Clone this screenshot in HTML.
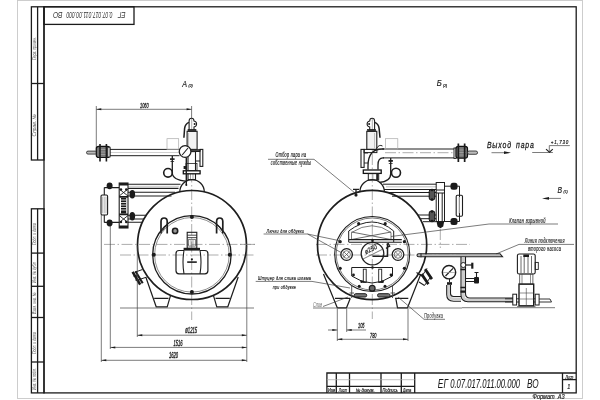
<!DOCTYPE html>
<html><head><meta charset="utf-8">
<style>
html,body{margin:0;padding:0;background:#fff;width:600px;height:400px;overflow:hidden}
svg{display:block;will-change:transform}
text{font-family:"Liberation Sans",sans-serif;font-style:italic;fill:#1a1a1a;stroke:#1a1a1a;stroke-width:0.18}
.f{fill:none;stroke:#1b1b1b;stroke-width:1.3}
.m{fill:none;stroke:#1e1e1e;stroke-width:1}
.t{fill:none;stroke:#444;stroke-width:0.7}
.g{fill:none;stroke:#bbb;stroke-width:0.7}
.c{fill:none;stroke:#8a8a8a;stroke-width:0.7;stroke-dasharray:11 2.5 1.5 2.5}
.d{fill:#1b1b1b;stroke:none}
</style></head>
<body>
<svg width="600" height="400" viewBox="0 0 600 400">
<!-- sheet border -->
<rect x="17.5" y="0.5" width="565" height="398" fill="none" stroke="#c8c8c8" stroke-width="0.9"/>
<!-- frame -->
<g id="frame">
<rect class="f" x="44" y="6.8" width="532.2" height="386.1"/>
<rect class="f" x="31.4" y="6.8" width="12.6" height="153.2"/>
<line class="f" x1="37.6" y1="6.8" x2="37.6" y2="160"/>
<line class="f" x1="31.4" y1="83.5" x2="44" y2="83.5"/>
<rect class="f" x="31.4" y="208.8" width="12.6" height="184.1"/>
<line class="f" x1="37.6" y1="208.8" x2="37.6" y2="392.9"/>
<line class="f" x1="31.4" y1="253.1" x2="44" y2="253.1"/>
<line class="f" x1="31.4" y1="286.3" x2="44" y2="286.3"/>
<line class="f" x1="31.4" y1="317.5" x2="44" y2="317.5"/>
<line class="f" x1="31.4" y1="362" x2="44" y2="362"/>
<rect class="f" x="44" y="6.8" width="90" height="17.6"/>
<!-- title block -->
<polyline class="f" points="326.9,392.9 326.9,373 576.2,373"/>
<line class="f" x1="336.3" y1="373" x2="336.3" y2="392.9"/>
<line class="f" x1="349.5" y1="373" x2="349.5" y2="392.9"/>
<line class="f" x1="381" y1="373" x2="381" y2="392.9"/>
<line class="f" x1="401.3" y1="373" x2="401.3" y2="392.9"/>
<line class="f" x1="414.7" y1="373" x2="414.7" y2="392.9"/>
<line class="f" x1="562.5" y1="373" x2="562.5" y2="392.9"/>
<line class="f" x1="326.9" y1="386.4" x2="414.7" y2="386.4"/>
<line x1="326.9" y1="379.7" x2="414.7" y2="379.7" stroke="#aaa" stroke-width="0.7"/>
<line class="f" x1="562.5" y1="379.6" x2="576.2" y2="379.6"/>
</g>
<g id="frametext">
<text transform="translate(125.6,12) rotate(180) scale(0.66,1)" font-size="9.6" style="fill:#333;stroke-width:0">ЕГ</text>
<text transform="translate(112.6,12) rotate(180) scale(0.53,1)" font-size="9.6" style="fill:#333;stroke-width:0">0.07.017.011.00.000</text>
<text transform="translate(62.6,12) rotate(180) scale(0.7,1)" font-size="9.6" style="fill:#333;stroke-width:0">ВО</text>
<text transform="translate(36,60) rotate(-90) scale(0.7,1)" font-size="5" style="fill:#555;stroke-width:0">Перв. примен.</text>
<text transform="translate(36,136.4) rotate(-90) scale(0.98,1)" font-size="5" style="fill:#555;stroke-width:0">Справ. №</text>
<text transform="translate(36,245) rotate(-90) scale(0.7,1)" font-size="5" style="fill:#555;stroke-width:0">Подп. и дата</text>
<text transform="translate(36,283) rotate(-90) scale(0.7,1)" font-size="5" style="fill:#555;stroke-width:0">Инв. № дубл.</text>
<text transform="translate(36,314) rotate(-90) scale(0.7,1)" font-size="5" style="fill:#555;stroke-width:0">Взам. инв. №</text>
<text transform="translate(36,354) rotate(-90) scale(0.7,1)" font-size="5" style="fill:#555;stroke-width:0">Подп. и дата</text>
<text transform="translate(36,390) rotate(-90) scale(0.7,1)" font-size="5" style="fill:#555;stroke-width:0">Инв. № подл.</text>
<text transform="translate(437.8,387.6) scale(0.68,1)" font-size="12.4" style="stroke-width:0.08">ЕГ</text>
<text transform="translate(450.2,387.6) scale(0.62,1)" font-size="12.4" style="stroke-width:0.08">0.07.017.011.00.000</text>
<text transform="translate(526.9,387.6) scale(0.66,1)" font-size="12.4" style="stroke-width:0.08">ВО</text>
<text transform="translate(565.4,378.5) scale(0.68,1)" font-size="4.5">Лист</text>
<text transform="translate(567.3,389) scale(0.8,1)" font-size="7">1</text>
<text transform="translate(328,391.8) scale(0.8,1)" font-size="4.8">Изм</text>
<text transform="translate(338.8,391.8) scale(0.68,1)" font-size="4.8">Лист</text>
<text transform="translate(355.7,391.8) scale(0.9,1)" font-size="4.8">№ докум.</text>
<text transform="translate(382.5,391.8) scale(0.8,1)" font-size="4.8">Подпись</text>
<text transform="translate(403,391.8) scale(0.66,1)" font-size="4.8">Дата</text>
<text transform="translate(532.5,398.8) scale(0.86,1)" font-size="6.5" style="white-space:pre">Формат  А3</text>
</g>
<g id="leftview">
<!-- center lines -->
<line class="c" x1="191.7" y1="119" x2="191.7" y2="320"/>
<line class="c" x1="104" y1="244.4" x2="256" y2="244.4"/>
<line class="c" x1="120" y1="255" x2="256" y2="255"/>
<!-- view label -->
<text font-size="9" transform="translate(182.3,86.8) scale(0.8,1)">А</text>
<text x="188.5" y="87" font-size="3.5">(2)</text>
<!-- dim 1060 -->
<line class="t" x1="96.3" y1="109.3" x2="191.6" y2="109.3"/>
<path class="d" d="M96.3,109.3 l5,-1 v2z M191.6,109.3 l-5,-1 v2z"/>
<line class="t" x1="96.3" y1="106" x2="96.3" y2="150"/>
<line class="t" x1="191.6" y1="106" x2="191.6" y2="118"/>
<text font-size="6.4" transform="translate(140,107.6) scale(0.6,1)" style="stroke-width:0.3">1060</text>
<!-- upper steam pipe -->
<line class="m" x1="110" y1="149.4" x2="179.5" y2="149.4"/>
<line class="m" x1="110" y1="155.7" x2="179.5" y2="155.7"/>
<line class="t" x1="110" y1="152.5" x2="179.5" y2="152.5" style="stroke:#bbb"/>
<rect class="m" x="86.5" y="151.1" width="10.5" height="3" rx="1.5" style="fill:#bbb;stroke-width:0.8"/>
<path d="M96.3,148.5 q0,-2.2 2.5,-2.2 h8.5 q2.5,0 2.5,2.2 v6.8 q0,2.2 -2.5,2.2 h-8.5 q-2.5,0 -2.5,-2.2z" fill="#777" stroke="#111" stroke-width="1.2"/>
<path d="M99,149.5 h8 M99,152 h8 M99,154.5 h8" stroke="#aaa" stroke-width="0.7"/>
<path class="d" d="M99.2,144 h1.6 v17.6 h-1.6z M105.6,144 h1.6 v17.6 h-1.6z"/>
<rect class="m" x="107.8" y="147.2" width="2.2" height="9.8" style="fill:#fff;stroke-width:0.9"/>
<rect x="167" y="138.7" width="11.7" height="10.7" fill="none" stroke="#aaa" stroke-width="0.7"/>
<!-- safety valve -->
<rect class="m" x="187.1" y="131.3" width="10" height="18.1" style="fill:#f2f2f2;stroke-width:1.1"/>
<line class="t" x1="188.5" y1="133" x2="188.5" y2="148" style="stroke:#aaa"/>
<path class="m" d="M189.1,130.2 V121 q0,-2.8 2.45,-2.8 q2.45,0 2.45,2.8 q2.6,0.5 2.6,3 q0,2.5 -2.6,3 V130.2z" style="stroke-width:1.1"/>
<circle class="d" cx="194.6" cy="124" r="1"/>
<path style="stroke-width:1.5" class="m" d="M189,122.4 q-3.8,1.5 -4.4,6 l-0.7,9.3"/>
<rect class="m" x="188" y="129.3" width="8" height="2" style="fill:#333;stroke-width:0.6"/>
<rect class="m" x="186.2" y="149.4" width="14" height="2.2" style="fill:#444;stroke-width:0.6"/>
<rect class="m" x="200" y="149.4" width="2.8" height="17" style="stroke-width:1.1"/>
<path class="m" d="M195.7,151.5 H200 M195.7,161 H200" style="stroke-width:1"/>
<rect class="m" x="188" y="151.6" width="7.5" height="28" style="fill:#fff;stroke-width:1.1"/>
<line class="t" x1="190.5" y1="174" x2="190.5" y2="179.5" style="stroke:#777"/><line class="t" x1="193" y1="174" x2="193" y2="179.5" style="stroke:#777"/>
<rect x="183.3" y="170.8" width="16.8" height="3" fill="#fff" stroke="#111" stroke-width="1.3"/>
<rect class="m" x="186" y="163.5" width="11" height="7" style="stroke-width:0.8"/>
<path class="m" d="M186.3,157.6 V185" style="stroke-width:1.4"/><circle class="d" cx="186.3" cy="185" r="1"/>
<rect class="d" x="183.6" y="166" width="3" height="3"/>
<circle cx="185.1" cy="151.5" r="5.85" fill="#fff" stroke="#1e1e1e" stroke-width="1.3"/>
<line class="m" x1="182.2" y1="155" x2="188" y2="148" style="stroke-width:1.1"/>
<!-- siphon -->
<circle class="m" cx="168" cy="172.8" r="4.3" style="stroke-width:1.6"/>
<path class="m" d="M172.3,156 V172.8 q0,7.5 14.9,8.5" style="stroke-width:1.3"/>
<rect class="d" x="170" y="158.3" width="4.6" height="1.6"/>
<path class="m" d="M170.5,161.5 h3.6" style="stroke-width:0.8"/>
<!-- dome -->
<path style="stroke-width:1.3" class="m" d="M179.8,192 A12.25,12.3 0 0 1 204.3,192"/>
<!-- main shell -->
<circle style="stroke-width:1.7" class="m" cx="192" cy="245" r="54.5"/>
<!-- door -->
<circle style="stroke-width:1.3" class="m" cx="191.9" cy="254.8" r="39.2"/>
<circle class="t" cx="191.9" cy="254.8" r="37.3" style="stroke-width:0.6"/>
<circle class="d" cx="191.9" cy="217" r="2"/>
<circle class="d" cx="153.8" cy="254.8" r="2"/>
<circle class="d" cx="229.8" cy="254.8" r="2"/>
<circle class="d" cx="191.9" cy="291.9" r="2"/>
<path style="stroke-width:1.7" class="m" d="M161,233.4 V221.6 q0,-3.6 3.1,-3.6 q3.1,0 3.1,3.6 V233.4"/><path class="m" style="stroke-width:0.9" d="M162,231.5 L167,224.5"/>
<path style="stroke-width:1.7" class="m" d="M216.6,233.4 V221.6 q0,-3.6 3.1,-3.6 q3.1,0 3.1,3.6 V233.4"/><path class="m" style="stroke-width:0.9" d="M217.6,224.5 L222.6,231.5"/>
<circle class="m" cx="175.1" cy="230.9" r="2.6" style="fill:#999;stroke-width:1.6"/>
<!-- burner -->
<rect class="m" x="187.2" y="232.3" width="9.6" height="16" style="stroke-width:1.1"/>
<path class="m" d="M187.2,235.2 H196.8 M187.2,237.6 H196.8" style="stroke-width:0.8"/>
<rect class="t" x="188.7" y="239.3" width="6.6" height="6.8"/>
<path class="t" d="M190,241 h4 M190,243 h4 M190,245 h4" style="stroke-width:0.5"/>
<rect class="d" x="183.6" y="247.8" width="16.4" height="2.8"/>
<path class="m" d="M184,250.5 H179 q-3,0 -3,3 V270.8 q0,3 3,3 H204.9 q3,0 3,-3 V253.5 q0,-3 -3,-3 H200" style="stroke-width:1.2"/>
<path class="m" d="M184,250.5 q-2,11.7 0,23.3 M200,250.5 q2,11.7 0,23.3" style="stroke-width:1.1"/>
<line style="stroke-width:1.6" class="m" x1="187.2" y1="262.1" x2="196.8" y2="262.1"/>
<circle class="d" cx="191.9" cy="259.3" r="1.1"/>
<!-- legs -->
<path class="m" d="M145.8,277 L156.2,306.8 H167.2 L170.5,295.7 M154.2,298.3 H168.5" style="stroke-width:1.2"/>
<path class="m" d="M238.2,277 L227.8,306.8 H216.8 L213.5,295.7 M229.8,298.3 H215.5" style="stroke-width:1.2"/>
<!-- side nozzle -->
<path class="m" d="M134.7,272.3 L142.2,269.6 M139.3,279.5 L146,277.3" style="stroke-width:1"/>
<path class="d" d="M131.5,272.5 l2.2,-1.3 l7.6,12.7 l-2.2,1.3z M134.6,271.8 l1.8,-1.1 l7.2,12 l-1.8,1.1z"/>
<path class="m" d="M133.5,276 h4 M135.5,280 h4" style="stroke-width:1.4"/>
<!-- floor -->
<line class="t" x1="120" y1="308" x2="254" y2="308"/>
<!-- dims -->
<line class="t" x1="101.3" y1="215" x2="101.3" y2="362"/>
<line class="t" x1="110.3" y1="226" x2="110.3" y2="349"/>
<line class="t" x1="137.3" y1="246" x2="137.3" y2="337"/>
<line class="t" x1="246.8" y1="246" x2="246.8" y2="362"/>
<line class="t" x1="137.3" y1="335.2" x2="246.8" y2="335.2"/>
<line class="t" x1="110.3" y1="347.4" x2="246.8" y2="347.4"/>
<line class="t" x1="101.3" y1="360.3" x2="246.8" y2="360.3"/>
<path class="d" d="M137.3,335.2 l5,-1 v2z M246.8,335.2 l-5,-1 v2z M110.3,347.4 l5,-1 v2z M246.8,347.4 l-5,-1 v2z M101.3,360.3 l5,-1 v2z M246.8,360.3 l-5,-1 v2z"/>
<text font-size="8.4" transform="translate(185.3,332.9) scale(0.5,1)" style="stroke-width:0.35">ø1215</text>
<text font-size="8.4" transform="translate(173.5,345.6) scale(0.49,1)" style="stroke-width:0.35">1516</text>
<text font-size="8.4" transform="translate(169,357.8) scale(0.49,1)" style="stroke-width:0.35">1620</text>
<!-- water gauge -->
<path class="m" d="M119,184.2 H180.5 M128,188.4 H178.5" style="stroke-width:1.1"/>
<line x1="128" y1="186.3" x2="179" y2="186.3" stroke="#bbb" stroke-width="0.8"/>
<path class="m" d="M128,192.3 H175 M128,196 H171.5" style="stroke-width:1.1"/>
<path class="m" d="M128,215.3 H146 M128,219 H144 M128,222.3 H142.5" style="stroke-width:1.1"/>
<ellipse class="d" cx="132.3" cy="194.2" rx="2.8" ry="4.2"/>
<ellipse class="d" cx="132.3" cy="216.3" rx="2.8" ry="4.2"/>
<rect class="m" x="119.2" y="183" width="8.8" height="45" style="fill:#fff;stroke-width:1.1"/>
<path class="m" d="M119.2,189 L128,196 M128,189 L119.2,196 M119.2,215.5 L128,222.5 M128,215.5 L119.2,222.5" style="stroke-width:0.9"/>
<path class="d" d="M119.2,183 h8.8 v2.5 h-8.8z M119.2,196 h8.8 v1.8 h-8.8z M119.2,213.5 h8.8 v1.8 h-8.8z M119.2,225.5 h8.8 v2.5 h-8.8z"/>
<circle class="d" cx="121" cy="189.5" r="1.2"/><circle class="d" cx="126.2" cy="189.5" r="1.2"/><circle class="d" cx="121" cy="222" r="1.2"/><circle class="d" cx="126.2" cy="222" r="1.2"/>
<rect class="d" x="121" y="198" width="5.2" height="15.5"/>
<path d="M121,200 h5.2 M121,202.5 h5.2 M121,205 h5.2 M121,207.5 h5.2 M121,210 h5.2" stroke="#fff" stroke-width="0.8"/>
<rect style="fill:#eee;stroke-width:1.1" class="m" x="101" y="195" width="6.6" height="20" rx="1.2"/>
<path class="t" d="M102.5,197 v16 M104.3,197 v16 M106,197 v16" style="stroke:#999;stroke-width:0.5"/>
<path class="m" d="M104.3,187.6 V195 M104.3,215 V222.4 M104.3,187.6 H119.2 M104.3,222.4 H119.2" style="stroke-width:1.1"/>
<ellipse class="d" cx="109.6" cy="185.8" rx="3" ry="3.4"/>
<ellipse class="d" cx="109.6" cy="223" rx="3" ry="3.4"/>
</g>
<g id="rightview">
<line class="c" x1="372.3" y1="119" x2="372.3" y2="319"/>
<line class="c" x1="316" y1="244.4" x2="470" y2="244.4"/>
<line class="c" x1="316" y1="255" x2="470" y2="255"/>
<line class="c" x1="240" y1="244.4" x2="256" y2="244.4"/>
<text font-size="9" transform="translate(436.8,85.8) scale(0.85,1)">Б</text>
<text x="443" y="87" font-size="3.5">(2)</text>
<!-- steam pipe right -->
<line class="m" x1="382.2" y1="149" x2="455" y2="149"/>
<line class="m" x1="383" y1="157.9" x2="455" y2="157.9"/>
<line class="c" x1="385" y1="152.7" x2="478" y2="152.7"/>
<rect class="m" x="454" y="148" width="2.2" height="10.5" style="fill:#fff;stroke-width:0.9"/>
<path d="M456,148.5 q0,-2.2 2.5,-2.2 h6.5 q2.5,0 2.5,2.2 v7.5 q0,2.2 -2.5,2.2 h-6.5 q-2.5,0 -2.5,-2.2z" fill="#777" stroke="#111" stroke-width="1.2"/>
<path d="M458,150 h8 M458,152.5 h8 M458,155 h8" stroke="#aaa" stroke-width="0.7"/>
<path class="d" d="M457.5,143.5 h1.7 v18.5 h-1.7z M463.8,143.5 h1.7 v18.5 h-1.7z"/>
<rect class="m" x="467.5" y="151" width="10" height="3.3" rx="1.6" style="fill:#bbb;stroke-width:0.8"/>
<rect x="385.4" y="138.7" width="12.4" height="10.3" fill="none" stroke="#aaa" stroke-width="0.7"/>
<!-- safety valve right -->
<rect class="m" x="366.8" y="131.3" width="10" height="18.1" style="fill:#f2f2f2;stroke-width:1.1"/>
<line class="t" x1="374.5" y1="133" x2="374.5" y2="148" style="stroke:#aaa"/>
<path class="m" d="M374.6,130.2 V121 q0,-2.8 -2.45,-2.8 q-2.45,0 -2.45,2.8 q-2.6,0.5 -2.6,3 q0,2.5 2.6,3 V130.2z" style="stroke-width:1.1"/>
<circle class="d" cx="369.1" cy="124" r="1"/>
<path style="stroke-width:1.5" class="m" d="M374.7,122.4 q3.8,1.5 4.4,6 l0.9,9.3"/>
<rect class="m" x="367.6" y="129.3" width="8" height="2" style="fill:#333;stroke-width:0.6"/>
<rect class="m" x="364.1" y="149.4" width="12.8" height="3.2" style="stroke-width:1"/>
<rect class="m" x="361" y="149.4" width="3.1" height="18" style="stroke-width:1.1"/>
<path class="m" d="M364.1,153 H368 M364.1,163 H368" style="stroke-width:0.9"/>
<path class="m" d="M368,169.5 V166 C368,156 372,149 382.2,149 H384 M378,169.5 V165 q0,-7.1 5,-7.1 H384" style="stroke-width:1.3"/>
<path class="m" d="M376.5,148.5 q2.5,-4.5 6,-2.5" style="stroke-width:1"/>
<rect x="363.3" y="170" width="17.9" height="3.4" fill="#fff" stroke="#111" stroke-width="1.3"/>
<rect class="m" x="368.3" y="173.6" width="10.4" height="6.5" style="stroke-width:1"/><path d="M377.2,174 V180" stroke="#222" stroke-width="2"/>
<line class="t" x1="373" y1="174" x2="373" y2="181" style="stroke:#999"/>
<!-- siphon right -->
<circle class="m" cx="396" cy="172.8" r="4.5" style="stroke-width:1.6"/>
<path class="m" d="M390.7,158 V173.8 q0,8 -11.7,8.5" style="stroke-width:1.3"/>
<rect class="d" x="388.5" y="160" width="4.4" height="1.8"/>
<path class="m" d="M388.8,163.5 h3.8" style="stroke-width:0.8"/>
<!-- nozzle top-left -->
<path style="stroke-width:1.3" class="m" d="M353,189.3 h6 M356,189.3 v7"/>
<circle class="d" cx="356" cy="195" r="1.6"/>
<!-- dome -->
<path style="stroke-width:1.3" class="m" d="M359.9,192 A12.25,12.3 0 0 1 384.4,192"/>
<!-- shell -->
<circle style="stroke-width:1.7" class="m" cx="372.1" cy="245" r="54.6"/>
<circle style="stroke-width:1.1" class="m" cx="372.2" cy="254" r="37.5"/>
<circle class="t" cx="372.2" cy="254" r="36"/>
<!-- explosion valve -->
<path class="m" d="M348.7,242 V231 Q372.5,213 393.7,231 V242"/>
<path class="t" d="M351.5,239.6 V232.5 Q372.5,219 391,232.5 V239.6"/>
<path class="t" d="M351.5,232 L391,239.5 M351.5,239.5 L391,232" style="stroke-width:0.8"/>
<path class="m" d="M348.7,239.6 H401.8 M348.7,242.2 H401.8" style="stroke-width:1.1"/>
<circle class="d" cx="358.7" cy="223.7" r="1.6"/>
<circle class="d" cx="385.2" cy="223.7" r="1.6"/>
<circle class="d" cx="340.2" cy="241.7" r="1.6"/>
<circle class="d" cx="404.4" cy="241.7" r="1.6"/>
<circle class="d" cx="340.2" cy="268.3" r="1.6"/>
<circle class="d" cx="404.4" cy="268.3" r="1.6"/>
<circle class="d" cx="359.2" cy="286.3" r="1.5"/>
<circle class="d" cx="385" cy="286.3" r="1.5"/>
<circle class="d" cx="372.5" cy="240.8" r="1.3"/>
<circle class="d" cx="372.5" cy="267.5" r="1.3"/>
<!-- center sight -->
<circle style="stroke-width:1.3" class="m" cx="372.5" cy="253.6" r="11.3"/>
<line class="t" x1="362" y1="259.5" x2="383" y2="249"/>
<text font-size="6.8" transform="translate(366,254.5) rotate(-28) scale(0.85,1)">ø250</text>
<path style="stroke-width:1.5" class="m" d="M372.5,256.3 h15 v-13"/>
<path class="m" d="M386,248.5 l4,-3 M388,243 l2,4" style="stroke-width:1.3"/>
<circle class="m" cx="346.6" cy="254.5" r="5.8" style="stroke-width:1.3"/><circle class="t" cx="346.6" cy="254.5" r="3.8"/>
<path class="t" d="M344,252 l5,5 M349,252 l-5,5"/>
<circle class="m" cx="398" cy="254.5" r="5.8" style="stroke-width:1.3"/><circle class="t" cx="398" cy="254.5" r="3.8"/>
<path class="t" d="M395.5,252 l5,5 M400.5,252 l-5,5"/>

<!-- ash door -->
<path class="m" d="M351.7,267.5 H392.5 V276 Q372,290 351.7,276z"/>
<rect class="m" x="363.3" y="269.2" width="2.9" height="13.3" style="stroke-width:0.9"/>
<rect class="m" x="378.7" y="269.2" width="3" height="13.3" style="stroke-width:0.9"/>
<circle class="d" cx="353.5" cy="275" r="1.4"/><circle class="d" cx="391" cy="275" r="1.4"/>
<circle class="d" cx="361.7" cy="281.7" r="1.4"/><circle class="d" cx="382.5" cy="281.7" r="1.4"/>
<circle class="m" cx="372.2" cy="288.3" r="2.9" style="fill:#666;stroke-width:1.2"/>
<rect class="m" x="354.2" y="293.7" width="12.5" height="3.3" rx="1.6" style="fill:#777;stroke-width:1"/>
<rect class="m" x="377.5" y="293.7" width="12.5" height="3.3" rx="1.6" style="fill:#777;stroke-width:1"/>
<path class="t" d="M351.7,285 V298 M392.5,285 V298 M349.5,293 h4.5 M390.5,293 h4.5" style="stroke-width:0.9"/>
<!-- legs -->
<path class="m" d="M323.5,274 L337.3,307.8 H346.5 L350.3,298.3 M335,298.3 H350.3" style="stroke-width:1.2"/>
<path class="m" d="M420.8,274 L407.5,307.8 H397.5 L395.8,298.3 M408.3,298.3 H395" style="stroke-width:1.2"/>
<!-- right nozzle angled -->
<path class="m" d="M416.5,272.5 L422,276 M419,282 L424.5,285.5" style="stroke-width:1.1"/>
<path class="d" d="M424,270 l2.2,-1.8 l6.8,10 l-2.2,1.8z M420.5,275 l2.2,-1.8 l6.8,10 l-2.2,1.8z"/>
<path class="m" d="M422,276 L427,268.5 M424.5,285.5 L431,276.5"/>
<!-- floor -->
<line class="t" x1="313" y1="308" x2="462" y2="308"/>
<line class="t" x1="462" y1="307.7" x2="555" y2="307.7"/>
<!-- dims -->
<line class="t" x1="337.3" y1="309" x2="337.3" y2="341"/>
<line class="t" x1="346.7" y1="309" x2="346.7" y2="332"/>
<line class="t" x1="408" y1="309" x2="408" y2="341"/>
<line class="t" x1="328" y1="330" x2="337.3" y2="330"/>
<line class="t" x1="346.7" y1="330" x2="366" y2="330"/>
<path class="d" d="M337.3,330 l-5,-1 v2z M346.7,330 l5,-1 v2z"/>
<line class="t" x1="337.3" y1="339.3" x2="408" y2="339.3"/>
<path class="d" d="M337.3,339.3 l5,-1 v2z M408,339.3 l-5,-1 v2z"/>
<text font-size="7" transform="translate(358,328.4) scale(0.55,1)" style="stroke-width:0.3">105</text>
<text font-size="7" transform="translate(370,337.6) scale(0.55,1)" style="stroke-width:0.3">780</text>
<!-- water gauge right -->
<path class="m" d="M383,184.2 H436.2 M384,189.5 H436.2"/>
<line x1="386" y1="186.8" x2="436" y2="186.8" stroke="#aaa" stroke-width="0.8"/>
<path class="m" d="M388.5,192.5 H436.2 M392,196.2 H436.2"/>
<path class="m" d="M418,215 H436.2 M421,218.7 H436.2 M423,221.7 H436.2"/>
<rect x="429.2" y="189.5" width="5.6" height="10.5" rx="2" fill="#555" stroke="#111" stroke-width="1"/><circle class="d" cx="432" cy="190" r="1.3"/><circle class="d" cx="432" cy="199.5" r="1.3"/>
<rect x="429.2" y="211" width="5.6" height="10.5" rx="2" fill="#555" stroke="#111" stroke-width="1"/><circle class="d" cx="432" cy="211.5" r="1.3"/><circle class="d" cx="432" cy="221" r="1.3"/>
<rect class="m" x="436.2" y="182.5" width="8.3" height="39"/>
<path class="m" d="M436.2,190 h8.3 M436.2,193 h8.3 M438.5,193 v28.5 M442.2,193 v28.5"/>
<path class="d" d="M436.5,221.5 h7.7 l-1,5 l-2.8,1.7 l-2.8,-1.7z"/>
<path class="m" d="M444.5,186.2 H459.5 V197 M444.5,221.5 H459.5 V213"/>
<rect style="stroke-width:1.1" class="m" x="456.2" y="195.2" width="6.3" height="21" rx="1.2"/>
<line class="t" x1="459.3" y1="197" x2="459.3" y2="214"/>
<rect class="d" x="450.5" y="182.8" width="7" height="7" rx="2.5"/>
<rect class="d" x="450.5" y="218" width="7" height="7" rx="2.5"/>
<line class="c" x1="440.3" y1="229" x2="440.3" y2="248"/>
<!-- labels -->
<text font-size="6.3" transform="translate(275.60,157) scale(0.595,1)" style="letter-spacing:0.5px">Отбор пара на</text>
<line class="t" x1="268" y1="159.3" x2="314" y2="159.3"/>
<line class="t" x1="314" y1="159.3" x2="355" y2="193"/>
<text font-size="6.3" transform="translate(270.76,165) scale(0.584,1)" style="letter-spacing:0.5px">собственные нужды</text>
<text font-size="6" transform="translate(266.61,233.2) scale(0.615,1)" style="letter-spacing:0.5px">Лючки для обдувки</text>
<line class="t" x1="263.6" y1="234" x2="307.5" y2="234"/>
<line class="t" x1="307.5" y1="234" x2="341" y2="241"/>
<line class="t" x1="307.5" y1="234" x2="342" y2="253"/>
<text font-size="6" transform="translate(257.93,280.2) scale(0.632,1)" style="letter-spacing:0.5px">Штуцер для слива шлама</text>
<line class="t" x1="255.7" y1="281.4" x2="312" y2="281.4"/>
<line class="t" x1="312" y1="281.4" x2="350" y2="288"/>
<text font-size="6" transform="translate(272.74,288.6) scale(0.594,1)" style="letter-spacing:0.5px">при обдувке</text>
<text font-size="6.8" transform="translate(313,307.2) scale(0.56,1)" style="fill:#666;stroke-width:0">Слив</text>

<line class="t" x1="323" y1="306.5" x2="348" y2="297"/>
<text font-size="6.5" transform="translate(424.00,318.3) scale(0.586,1)" style="letter-spacing:0.5px;fill:#444;stroke-width:0.1">Продувка</text>
<line class="t" x1="424" y1="319.3" x2="445" y2="319.3"/>
<line class="t" x1="424" y1="319.3" x2="398" y2="297"/>
<text font-size="8.7" transform="translate(486.89,148.3) scale(0.795,1)" style="letter-spacing:1.1px;stroke-width:0.25;word-spacing:1.5px">Выход пара</text>
<line class="t" x1="491.5" y1="152.7" x2="505" y2="152.7"/>
<path class="d" d="M511,152.7 l-7,-1.4 v2.8z"/>
<line class="t" x1="532.2" y1="152.5" x2="552.9" y2="152.5"/>
<path class="m" d="M546,149.2 L549.5,152.2 L552.8,149.2" style="stroke-width:1.1"/><path class="t" d="M549.3,151.5 V145.6 H569.8" style="stroke-width:0.7"/>
<text font-size="5" transform="translate(550.8,144.3) scale(0.9,1)" style="letter-spacing:0.8px">+1,730</text>
<text font-size="8.5" transform="translate(557.5,193) scale(0.8,1)">В</text>
<text x="563.5" y="193" font-size="3.5">(1)</text>
<line class="t" x1="548" y1="198.4" x2="561" y2="198.4"/>
<path class="d" d="M542,198.4 l7,-1.4 v2.8z"/>
<text font-size="6.5" transform="translate(509.16,223) scale(0.610,1)" style="letter-spacing:0.5px">Клапан взрывной</text>
<path class="t" d="M391,236.5 L489,224 H558"/>
<text font-size="6.5" transform="translate(524.71,242.5) scale(0.583,1)" style="letter-spacing:0.5px">Линия подключения</text>
<line class="t" x1="519" y1="244.4" x2="574" y2="244.4"/>
<line class="t" x1="519" y1="244.4" x2="496" y2="254"/>
<text font-size="6.5" transform="translate(528.00,250.5) scale(0.594,1)" style="letter-spacing:0.5px">второго насоса</text>
</g>
<g id="pump">
<path d="M418,255.2 H501" stroke="#bbb" stroke-width="2"/>
<path class="m" d="M500,253.7 H418.7 q-1.7,0 -1.7,1.5 q0,1.5 1.7,1.5 H502.5z" style="stroke-width:1.1"/><path d="M421,253.2 v4" stroke="#333" stroke-width="1.2"/>
<path d="M463.3,258 V296 q0,4 4,4 H513" stroke="#ccc" stroke-width="3" fill="none"/>
<path class="m" d="M461,256.7 V295 q0,6.7 7,6.7 H513 M465.5,256.7 V293.5 q0,4.5 4.5,4.5 H513" style="stroke-width:1.1"/>
<path class="d" d="M460.5,268.7 h5.5 v1.6 h-5.5z M460.5,286.7 h5.5 v1.6 h-5.5z M460.5,290.5 h5.5 v2.2 h-5.5z"/>
<circle class="m" cx="463.3" cy="265" r="2.5" style="fill:#fff;stroke-width:1"/>
<path class="m" d="M465.5,265 H472.2" style="stroke-width:1.2"/>
<path class="d" d="M471.2,262.7 h2.2 v6 h-2.2z"/>
<path class="m" d="M465.5,278.5 H474.5 M465.5,281.5 H474.5" style="stroke-width:1"/>
<rect class="d" x="474" y="277" width="5" height="6.5" rx="1"/>
<path class="m" d="M476.5,277 V272.5 M474.5,272.5 H478.5" style="stroke-width:1.1"/>
<circle class="m" cx="449" cy="272.2" r="6.7" style="stroke-width:1.4"/>
<line class="m" x1="445.5" y1="276" x2="453" y2="268.3" style="stroke-width:1.2"/>
<line class="t" x1="443" y1="272.5" x2="455" y2="272.5" style="stroke:#999"/>
<rect class="d" x="447" y="282.2" width="5" height="2.6"/>
<line class="m" x1="449.5" y1="279" x2="449.5" y2="282.2"/>
<path d="M448.6,285 V294 q0,4.8 5,4.8 H461" stroke="#ccc" stroke-width="2.4" fill="none"/>
<path class="m" d="M446.7,285 V294.5 q0,6.7 7,6.7 H461 M450.5,285 V293.5 q0,3 3,3 H461" style="stroke-width:1.1"/>
<rect class="m" x="517.4" y="254" width="17.8" height="20" rx="1.8" style="stroke-width:1.1"/>
<path class="t" d="M521,256 v17 M524.2,256 v17 M528,256 v17 M531.5,256 v17" style="stroke-width:0.8"/>
<rect class="d" x="523.3" y="254.5" width="5.7" height="2.5"/>
<rect class="m" x="535.2" y="262.4" width="3.1" height="7" style="stroke-width:0.9"/>
<rect class="t" x="519.7" y="274" width="13.2" height="10.1" style="stroke-width:0.8"/>
<path class="t" d="M522,274 v10 M530.5,274 v10" style="stroke-width:0.6"/>
<rect class="m" x="519" y="284.1" width="14.7" height="21.7" style="stroke-width:1.4"/>
<path class="t" d="M526.3,288 v17.8 M519,293 h14.7 M519,299 h14.7" style="stroke-width:0.6"/>
<rect class="m" x="512.8" y="294.2" width="3.8" height="10.8" style="stroke-width:1"/>
<rect class="m" x="535.2" y="294.2" width="3.9" height="10.8" style="stroke-width:1"/>
<path class="m" d="M505,298.8 H512.8 M505,302 H512.8 M516.6,298.8 H519 M516.6,302 H519 M533.7,298.8 H535.2 M533.7,302 H535.2" style="stroke-width:0.9"/>
<path class="m" d="M539.1,299 H550 L551.5,302 H539.1" style="stroke-width:0.9"/>
<line class="t" x1="517" y1="306.6" x2="535.5" y2="306.6"/>
</g>
</svg>
</body></html>
